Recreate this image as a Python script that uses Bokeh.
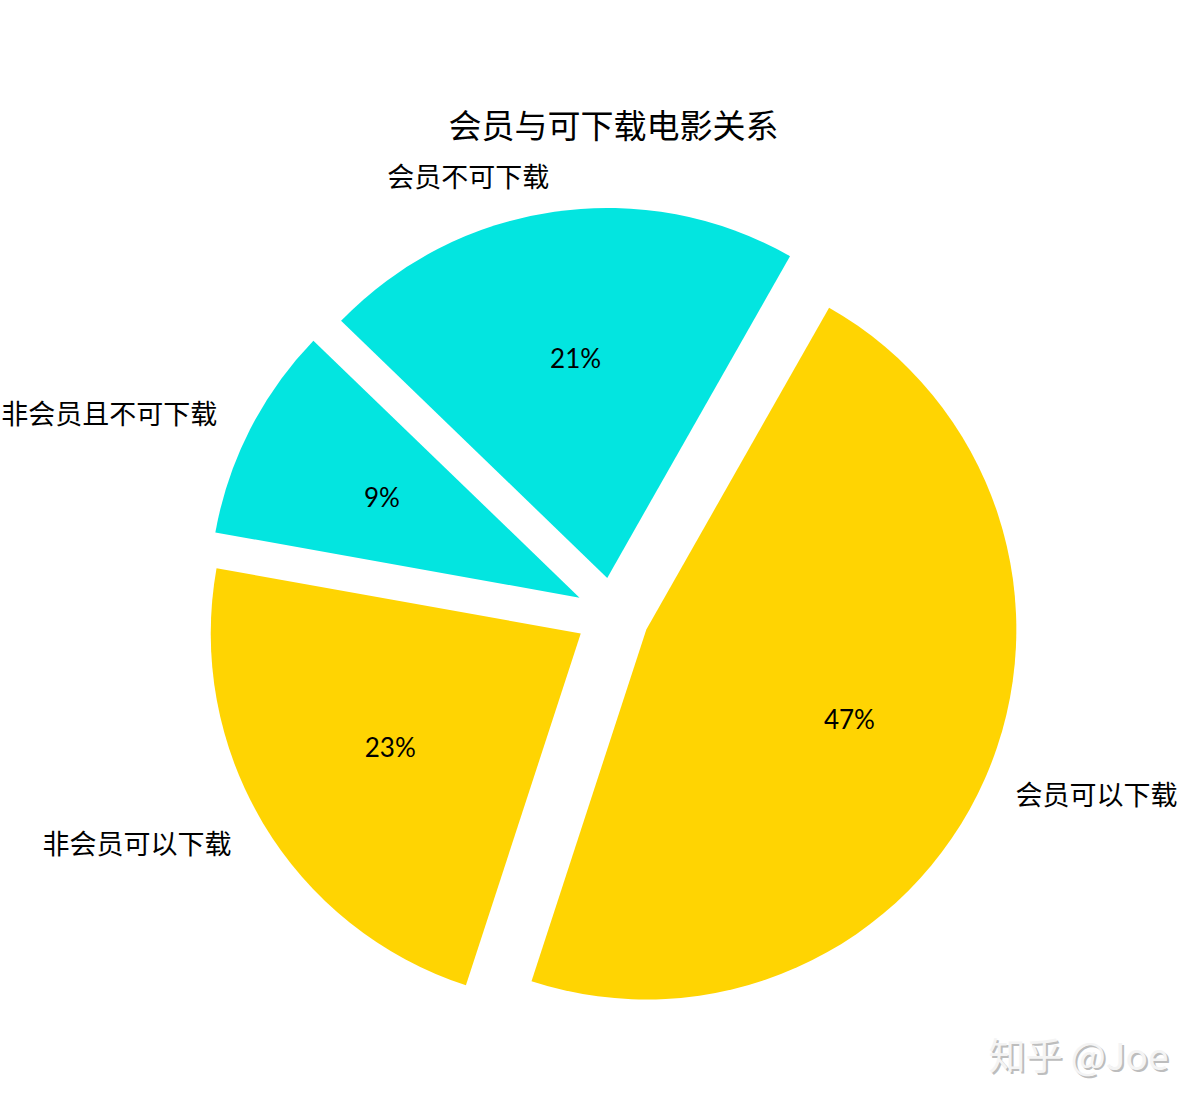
import numpy as np

from bokeh.plotting import figure
from bokeh.models import ColumnDataSource, Range1d, Label
from bokeh.core.properties import value
from bokeh.embed import file_html
from bokeh.resources import INLINE


labels = ["会员可以下载", "非会员可以下载", "非会员且不可下载", "会员不可下载"]
values = [46.8, 22.8, 9.4, 21.0]
colors = ["#FFD402", "#FFD402", "#03E5E0", "#03E5E0"]
title = "会员与可下载电影关系"

# pie geometry (pixels)
R = 370
explode = 0.1
start_deg = 60.4

vals = np.array(values, dtype=float)
fracs = vals / vals.sum()
spans = fracs * 2 * np.pi
# clockwise from the start angle
ends = np.deg2rad(start_deg) - np.concatenate([[0], np.cumsum(spans)[:-1]])
starts = ends - spans
mids = (starts + ends) / 2

cx = explode * R * np.cos(mids)
cy = explode * R * np.sin(mids)

src = ColumnDataSource(dict(
    x=cx, y=cy, start=starts, end=ends, color=colors,
    px=cx + 0.6 * R * np.cos(mids), py=cy + 0.6 * R * np.sin(mids),
    pct=["%d%%" % round(f * 100) for f in fracs],
))

lx = cx + 1.1 * R * np.cos(mids)
ly = cy + 1.1 * R * np.sin(mids)
right = lx > 0
src_r = ColumnDataSource(dict(x=lx[right], y=ly[right], t=[l for l, r in zip(labels, right) if r]))
src_l = ColumnDataSource(dict(x=lx[~right], y=ly[~right], t=[l for l, r in zip(labels, right) if not r]))

W, H = 1182, 1089
ox, oy = 612, 614
p = figure(width=W, height=H, output_backend="svg", toolbar_location=None,
           x_range=Range1d(-ox, W - ox), y_range=Range1d(oy - H, oy),
           min_border=0)
p.axis.visible = False
p.grid.visible = False
p.outline_line_color = None
p.background_fill_color = "white"
p.border_fill_color = "white"

p.wedge(x="x", y="y", radius=R, radius_units="data", start_angle="start", end_angle="end",
        fill_color="color", line_color=None, source=src)

p.text(x="px", y="py", text="pct", source=src, text_align="center", text_baseline="middle",
       text_font=value("Lato"), text_font_size="26px", text_color="black")

p.text(x="x", y="y", text="t", source=src_r, text_align="left", text_baseline="middle",
       x_offset=-3, text_font=value("Noto Sans CJK SC"), text_font_size="27px", text_color="black")
p.text(x="x", y="y", text="t", source=src_l, text_align="right", text_baseline="middle",
       text_font=value("Noto Sans CJK SC"), text_font_size="27px", text_color="black")

p.add_layout(Label(x=1, y=491, text=title, text_align="center", text_baseline="middle",
                   text_font="Noto Sans CJK SC", text_font_size="33px", text_color="black"))

# watermark
p.add_layout(Label(x=468, y=-441, text="知乎 @Joe", text_align="center", text_baseline="middle",
                   text_font="Noto Sans CJK SC", text_font_size="37px", text_color="#bdbdbd"))
p.add_layout(Label(x=466, y=-439, text="知乎 @Joe", text_align="center", text_baseline="middle",
                   text_font="Noto Sans CJK SC", text_font_size="37px", text_color="#f4f4f4"))

open("out.html", "w").write(file_html(p, INLINE))
